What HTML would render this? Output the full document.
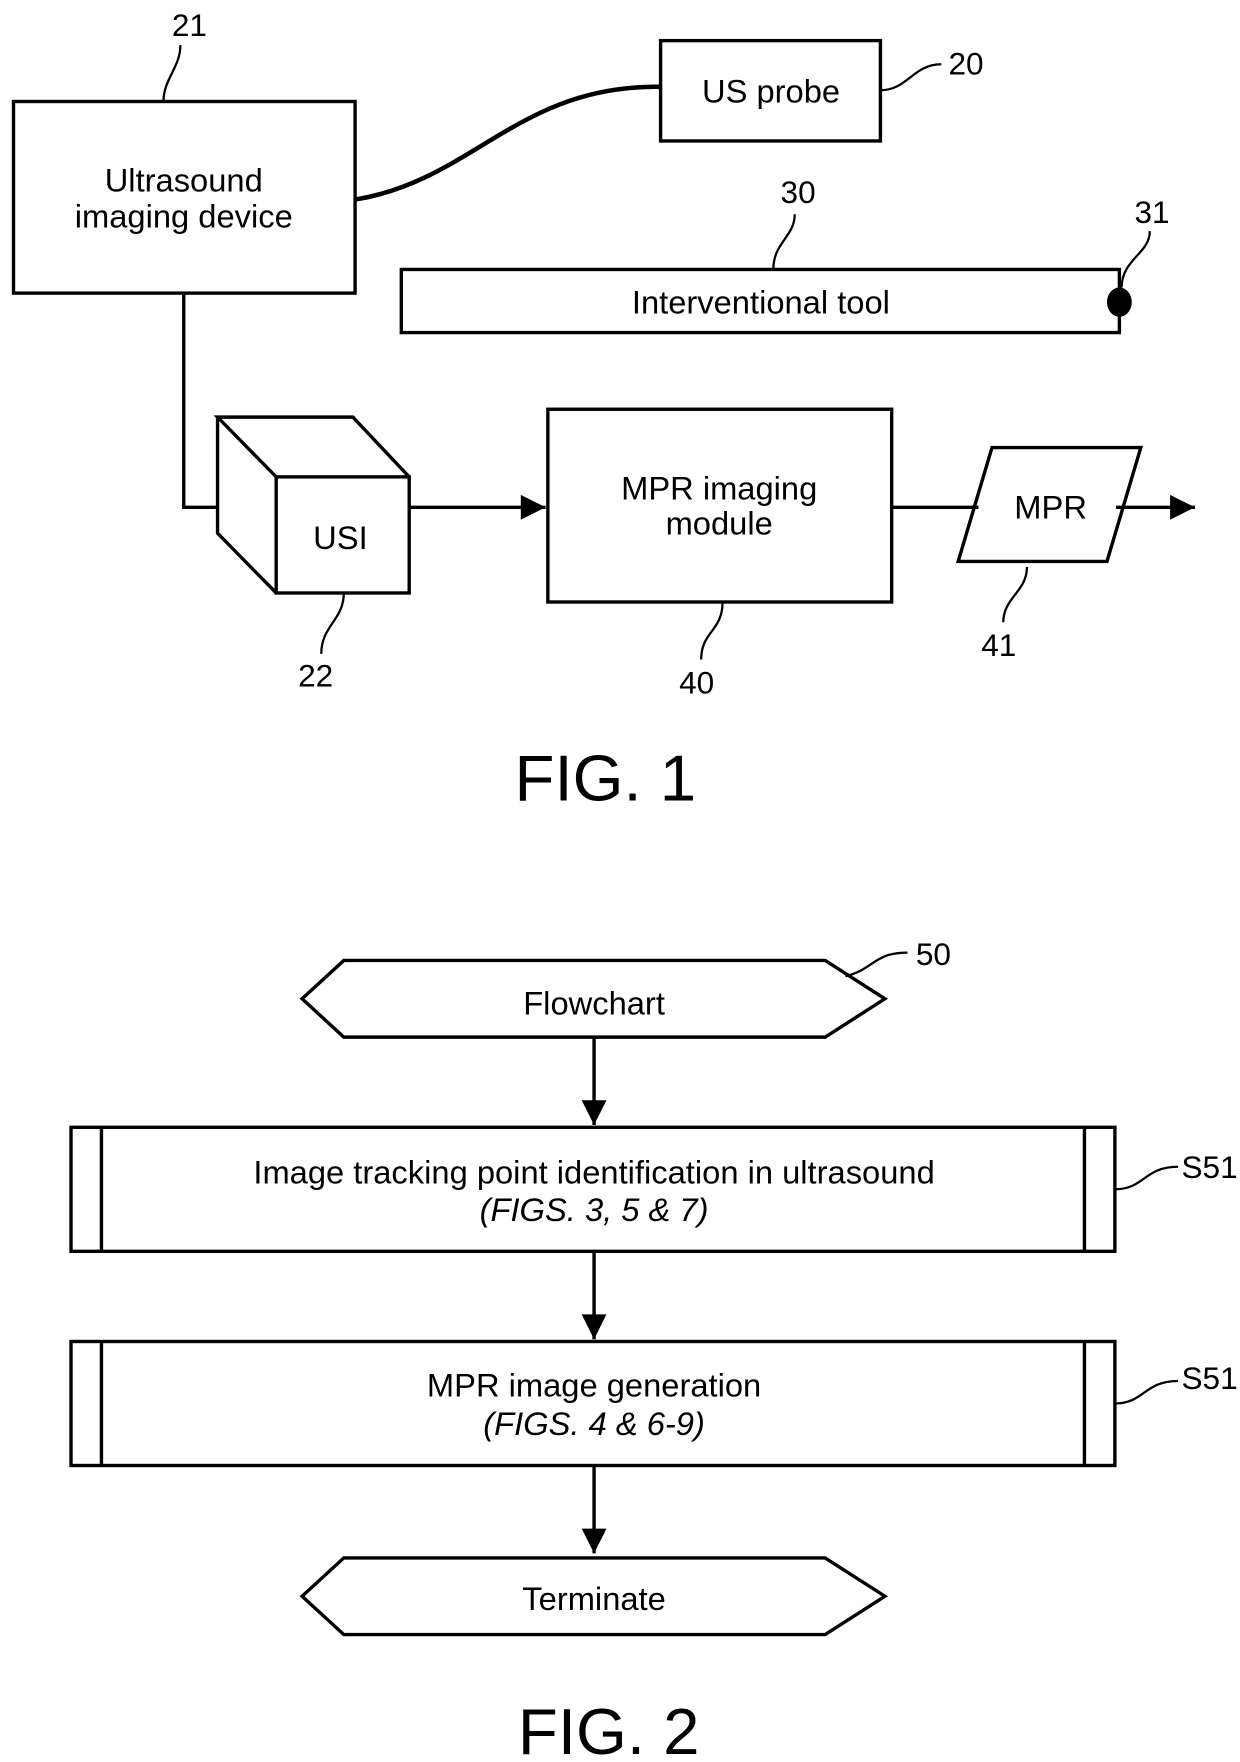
<!DOCTYPE html>
<html><head><meta charset="utf-8"><style>
html,body{margin:0;padding:0;background:#fff}
svg{display:block}
text{font-family:"Liberation Sans",sans-serif;fill:#000}
</style></head><body>
<svg width="1240" height="1762" viewBox="0 0 1100 1563" xmlns="http://www.w3.org/2000/svg">
<defs><marker id="a" viewBox="0 0 10 10" refX="10" refY="5" markerWidth="8" markerHeight="8" orient="auto" markerUnits="userSpaceOnUse"><path d="M0,0 L10,5 L0,10z"/></marker>
<marker id="b" viewBox="0 0 10 10" refX="10" refY="5" markerWidth="24" markerHeight="22" orient="auto" markerUnits="userSpaceOnUse"><path d="M0,0 L10,5 L0,10z"/></marker></defs>
<g fill="none" stroke="#000" stroke-width="3">
<rect x="12" y="90" width="303" height="170"/>
<rect x="586" y="36" width="195" height="89"/>
<path d="M315,177 C420,160 460,75 586,77" stroke-width="4"/>
<rect x="356" y="239" width="637" height="56"/>
<path d="M163,260 V450 H193"/>
<rect x="245" y="423" width="118" height="103"/>
<path d="M245,423 L193,370 H313 L363,423 M193,370 V473 L245,526"/>
<path d="M363,450 H484" marker-end="url(#b)"/>
<rect x="486" y="363" width="305" height="171"/>
<path d="M791,450 H868"/>
<path d="M880,397 H1012 L982,498 H850 Z"/>
<path d="M990,450 H1060" marker-end="url(#b)"/>
<g stroke-width="2">
<path d="M145,90 C145,70 160,60 160,40"/>
<path d="M781,80 C805,80 810,57 835,57"/>
<path d="M686,239 C686,215 705,210 705,190"/>
<path d="M995,255 C995,230 1020,225 1020,205"/>
<path d="M305,526 C305,550 285,555 285,580"/>
<path d="M641,534 C641,560 622,560 622,585"/>
<path d="M911,503 C911,525 890,530 890,552"/>
<path d="M750,866 C775,860 775,845 805,845"/>
<path d="M989,1055 C1015,1055 1015,1035 1045,1035"/>
<path d="M989,1245 C1015,1245 1015,1225 1045,1225"/>
</g>
<path d="M268,886 L305,852 H732 L785,886 L732,920 H305 Z"/>
<path d="M527,920 V998" marker-end="url(#b)"/>
<rect x="63" y="1000" width="926" height="110"/>
<path d="M90,1000 V1110 M962,1000 V1110"/>
<path d="M527,1110 V1188" marker-end="url(#b)"/>
<rect x="63" y="1190" width="926" height="110"/>
<path d="M90,1190 V1300 M962,1190 V1300"/>
<path d="M527,1300 V1378" marker-end="url(#b)"/>
<path d="M268,1416 L305,1382 H732 L785,1416 L732,1450 H305 Z"/>
</g>
<ellipse cx="993" cy="268" rx="11" ry="13" fill="#000"/>
<g font-size="29" text-anchor="middle">
<text x="163" y="170">Ultrasound</text>
<text x="163" y="202">imaging device</text>
<text x="684" y="91">US probe</text>
<text x="675" y="278">Interventional tool</text>
<text x="302" y="487">USI</text>
<text x="638" y="443">MPR imaging</text>
<text x="638" y="474">module</text>
<text x="932" y="460">MPR</text>
<text x="527" y="900">Flowchart</text>
<text x="527" y="1050">Image tracking point identification in ultrasound</text>
<text x="527" y="1083" font-style="italic">(FIGS. 3, 5 &amp; 7)</text>
<text x="527" y="1239">MPR image generation</text>
<text x="527" y="1273" font-style="italic">(FIGS. 4 &amp; 6-9)</text>
<text x="527" y="1428">Terminate</text>
</g>
<g font-size="28" text-anchor="middle">
<text x="168" y="32">21</text>
<text x="857" y="66">20</text>
<text x="708" y="180">30</text>
<text x="1022" y="198">31</text>
<text x="280" y="609">22</text>
<text x="618" y="615">40</text>
<text x="886" y="582">41</text>
<text x="828" y="856">50</text>
<text x="1073" y="1045">S51</text>
<text x="1073" y="1232">S51</text>
</g>
<g font-size="58" text-anchor="middle">
<text x="537" y="710">FIG. 1</text>
<text x="540" y="1556">FIG. 2</text>
</g>
</svg>
</body></html>
